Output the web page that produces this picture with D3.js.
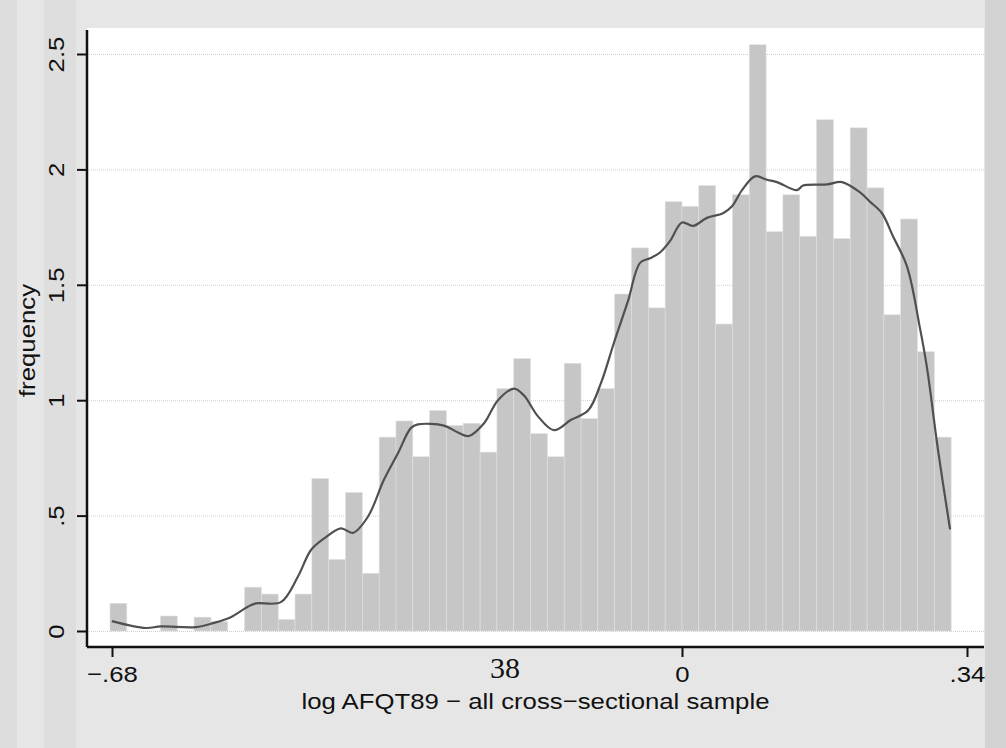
<!DOCTYPE html>
<html>
<head>
<meta charset="utf-8">
<script src="https://cdn.jsdelivr.net/npm/d3@7"></script>
<style>
  html, body { margin: 0; padding: 0; background: #e6e6e6; }
  svg { display: block; }
  text { font-family: "Liberation Sans", Arial, sans-serif; fill: #111; }
</style>
</head>
<body>
<svg id="chart" width="1006" height="748"></svg>
<script>
// histogram: 50 bins, left edge of first bin and bin width (log AFQT89 units)
const binStart = -0.6824;
const binWidth = 0.02007;
const binHeights = [
  0.12, 0, 0, 0.065, 0, 0.06, 0.04, 0, 0.19, 0.16,
  0.05, 0.16, 0.66, 0.31, 0.60, 0.25, 0.84, 0.91, 0.755, 0.955,
  0.89, 0.90, 0.775, 1.05, 1.18, 0.855, 0.755, 1.16, 0.92, 1.05,
  1.46, 1.66, 1.40, 1.86, 1.84, 1.93, 1.33, 1.89, 2.54, 1.73,
  1.89, 1.71, 2.215, 1.70, 2.18, 1.92, 1.37, 1.785, 1.21, 0.84
];

// kernel density curve
const densX = [
  -0.6802, -0.6396, -0.6217, -0.5800, -0.5585, -0.5383, -0.5180, -0.5084, -0.4786, -0.4583,
  -0.4428, -0.4272, -0.4070, -0.3926, -0.3747, -0.3556, -0.3389, -0.3233, -0.3150, -0.2840,
  -0.2673, -0.2541, -0.2362, -0.2195, -0.2004, -0.1885, -0.1718, -0.1527, -0.1324, -0.1121,
  -0.0966, -0.0811, -0.0644, -0.0501, -0.0382, -0.0263, -0.0143, 0.0000, 0.0131, 0.0298,
  0.0489, 0.0597, 0.0716, 0.0871, 0.1014, 0.1133, 0.1372, 0.1444, 0.1730, 0.1909,
  0.2124, 0.2243, 0.2386, 0.2517, 0.2684, 0.2840, 0.2923, 0.3054, 0.3198
];
const densY = [
  0.043, 0.013, 0.02, 0.017, 0.035, 0.06, 0.105, 0.12, 0.125, 0.235,
  0.35, 0.40, 0.445, 0.425, 0.495, 0.655, 0.77, 0.88, 0.895, 0.89,
  0.86, 0.845, 0.90, 1.0, 1.05, 1.02, 0.93, 0.87, 0.915, 0.955,
  1.075, 1.25, 1.43, 1.595, 1.615, 1.64, 1.69, 1.77, 1.755, 1.79,
  1.81, 1.84, 1.91, 1.97, 1.955, 1.945, 1.91, 1.93, 1.935, 1.945,
  1.90, 1.86, 1.81, 1.71, 1.58, 1.31, 1.14, 0.785, 0.44
];

const yTicks = [0, 0.5, 1, 1.5, 2, 2.5];
const yTickLabels = ["0", ".5", "1", "1.5", "2", "2.5"];
const xTicks = [-0.68, 0, 0.34];
const xTickLabels = ["\u2212.68", "0", ".34"];
const xTitle = "log AFQT89 \u2212 all cross\u2212sectional sample";
const yTitle = "frequency";

const svg = d3.select("#chart");
const plot = { left: 87, right: 984, top: 28, bottom: 647 };
const stretch = 1.12;  // the original font is a bit wider than Arial

const x = d3.scaleLinear().domain([-0.68, 0.34]).range([112, 967]);
const y = d3.scaleLinear().domain([0, 2.5]).range([631, 54]);

// outer background bands (Stata's dithered graph region)
svg.append("rect").attr("width", 1006).attr("height", 748).attr("fill", "#e6e6e6");
svg.append("rect").attr("x", 0).attr("width", 17).attr("height", 748).attr("fill", "#dcdcdc");
svg.append("rect").attr("x", 44).attr("width", 32).attr("height", 748).attr("fill", "#dedede");
svg.append("rect").attr("x", 985).attr("width", 21).attr("height", 748).attr("fill", "#d2d2d2");

// plot region
svg.append("rect")
  .attr("x", plot.left).attr("y", plot.top)
  .attr("width", plot.right - plot.left).attr("height", plot.bottom - plot.top)
  .attr("fill", "#fff");

// gridlines
svg.append("g").selectAll("line")
  .data(yTicks)
  .enter().append("line")
  .attr("x1", plot.left).attr("x2", plot.right)
  .attr("y1", d => y(d) + 0.5).attr("y2", d => y(d) + 0.5)
  .attr("stroke", "#cfcfcf")
  .attr("stroke-dasharray", "1,1");

// bars
svg.append("g").selectAll("rect")
  .data(binHeights)
  .enter().append("rect")
  .attr("x", (d, i) => x(binStart + i * binWidth))
  .attr("width", x(binStart + binWidth) - x(binStart))
  .attr("y", d => y(d))
  .attr("height", d => y(0) - y(d))
  .attr("fill", "#c6c6c6")
  .attr("stroke", "#e0e0e0")
  .attr("stroke-width", 0.6);

// density line
const line = d3.line()
  .x((d, i) => x(densX[i]))
  .y(d => y(d))
  .curve(d3.curveCatmullRom.alpha(0.5));
svg.append("path")
  .datum(densY)
  .attr("d", line)
  .attr("fill", "none")
  .attr("stroke", "#505050")
  .attr("stroke-width", 2.2);

// y axis
const yAxis = svg.append("g").attr("transform", `translate(${plot.left},0)`)
  .call(d3.axisLeft(y).tickValues(yTicks).tickSize(10).tickFormat((d, i) => yTickLabels[i]));
yAxis.select(".domain").attr("d", `M0,${plot.top + 2}V${plot.bottom}`).attr("stroke", "#111").attr("stroke-width", 2.5);
yAxis.selectAll(".tick line").attr("stroke", "#111").attr("stroke-width", 2);
yAxis.selectAll(".tick text")
  .attr("x", null).attr("dy", null)
  .attr("transform", `translate(-23,0) rotate(-90) scale(${stretch},1)`)
  .attr("text-anchor", "middle")
  .style("font-size", "23px")
  .style("font-family", "Liberation Sans, Arial, sans-serif")
  .attr("fill", "#111");

// x axis
const xAxis = svg.append("g").attr("transform", `translate(0,${plot.bottom})`)
  .call(d3.axisBottom(x).tickValues(xTicks).tickSize(10).tickFormat((d, i) => xTickLabels[i]));
xAxis.select(".domain").attr("d", `M${plot.left},0H${plot.right}`).attr("stroke", "#111").attr("stroke-width", 2.5);
xAxis.selectAll(".tick line").attr("stroke", "#111").attr("stroke-width", 2);
xAxis.selectAll(".tick text")
  .attr("y", null).attr("dy", null)
  .attr("transform", `translate(0,35) scale(${stretch},1)`)
  .style("font-size", "23px")
  .style("font-family", "Liberation Sans, Arial, sans-serif")
  .attr("fill", "#111");

// stray serif label on the x axis
svg.append("text")
  .attr("x", 505).attr("y", 678)
  .attr("text-anchor", "middle")
  .style("font-family", "Liberation Serif, DejaVu Serif, serif")
  .style("font-size", "30px")
  .text("38");

// axis titles
svg.append("text")
  .attr("transform", `translate(${(plot.left + plot.right) / 2},709) scale(${stretch},1)`)
  .attr("text-anchor", "middle")
  .style("font-size", "23px")
  .text(xTitle);

svg.append("text")
  .attr("transform", `translate(35,${(plot.top + plot.bottom) / 2 + 3}) rotate(-90) scale(${stretch},1)`)
  .attr("text-anchor", "middle")
  .style("font-size", "23px")
  .text(yTitle);
</script>
</body>
</html>
